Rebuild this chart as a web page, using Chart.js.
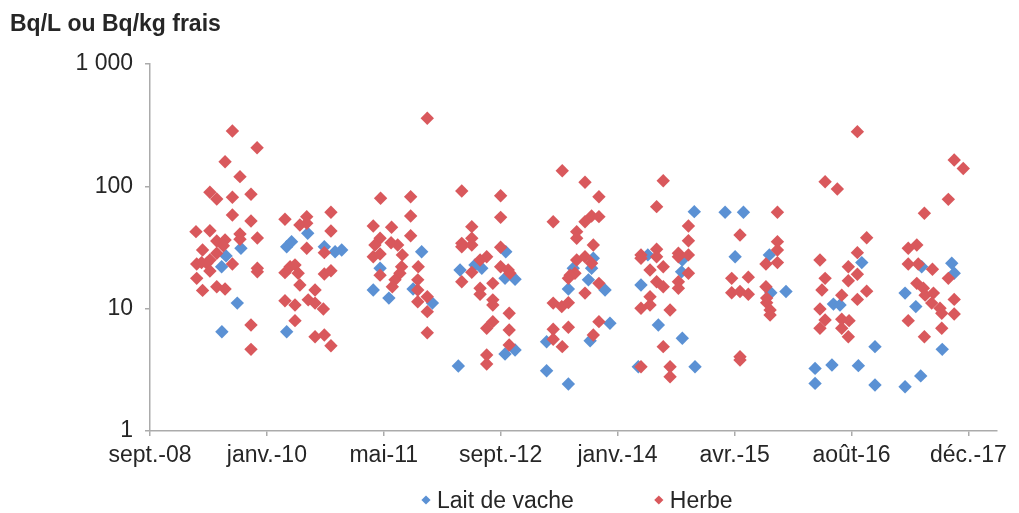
<!DOCTYPE html>
<html><head><meta charset="utf-8">
<script src="https://cdn.jsdelivr.net/npm/chart.js@4.4.1/dist/chart.umd.min.js"></script>
<style>html,body{margin:0;padding:0;background:#fff}canvas{display:block}</style>
</head><body>
<canvas id="c" width="1019" height="513"></canvas>
<script>
// ---- data ----
const yTitle = 'Bq/L ou Bq/kg frais';
const seriesNames = ['Lait de vache', 'Herbe'];
// x = days, axis starts at the "sept.-08" tick
const xTickDays = [-4, 474, 952, 1430, 1908, 2387, 2865, 3343];
const xTickLabels = ['sept.-08', 'janv.-10', 'mai-11', 'sept.-12', 'janv.-14', 'avr.-15', 'août-16', 'déc.-17'];
const yTickValues = [1, 10, 100, 1000];
const yTickLabels = ['1', '10', '100', '1 000'];

const laitDays = [368, 307, 289, 353, 290, 555, 555, 641, 575, 709, 753, 780,
  937, 909, 973, 1072, 1107, 1151,
  1451, 1325, 1353, 1264, 1448, 1489, 1448, 1489, 1257, 1618, 1618,
  1809, 1802, 1727, 1789, 1707, 1857, 1877, 1796, 1707,
  2222, 2032, 2173, 2170, 2004, 2075, 2173, 1993, 2225,
  2348, 2423, 2389, 2529, 2535, 2597,
  2716, 2716, 2907, 2791, 2818, 2961, 2785, 2893, 2961,
  3152, 3275, 3285, 3084, 3128, 3236, 3148, 3084];
const laitValues = [31.2, 27.0, 22.0, 11.1, 6.48, 32.1, 6.48, 41.3, 35.3, 32.1, 29.2, 30.2,
  21.4, 14.2, 12.2, 14.5, 29.2, 11.1,
  29.2, 22.8, 21.4, 20.7, 17.7, 17.4, 4.26, 4.59, 3.40, 5.37, 3.11,
  25.8, 21.4, 21.4, 17.2, 14.5, 14.2, 7.59, 5.47, 2.42,
  62.1, 27.5, 25.0, 20.0, 15.6, 7.36, 5.73, 3.35, 3.35,
  61.4, 61.4, 26.6, 27.5, 13.5, 13.8,
  3.25, 2.45, 23.8, 10.9, 10.7, 4.89, 3.46, 3.42, 2.38,
  22.0, 23.5, 19.5, 13.4, 10.4, 4.65, 2.82, 2.30];

const herbeDays = [333, 434, 303, 364, 241, 269, 333, 409, 333, 409, 548, 184, 241, 364, 435, 269, 303, 364, 296, 211,
  269, 241, 187, 207, 228, 333, 241, 187, 435, 435, 269, 303, 211, 548, 548, 409, 409,
  637, 609, 637, 736, 736, 637, 709, 569, 589, 602, 609, 709, 736, 671, 589, 643, 671, 705, 589, 671, 709, 736,
  939, 1062, 1062, 909, 984, 1062, 937, 916, 909, 982, 1009, 937, 1028, 1025, 1018, 998, 987, 937, 1093, 1091, 1091, 1091,
  1130, 1130, 1130, 1130,
  1271, 1430, 1430, 1312, 1271, 1271, 1312, 1312, 1430, 1373, 1346, 1312, 1430, 1461, 1468, 1271, 1398, 1346, 1346, 1398,
  1398, 1465, 1398, 1373, 1465, 1465, 1373, 1373,
  1645, 1645, 1645, 1645, 1682, 1775, 1832, 1775, 1802, 1832, 1741, 1741, 1809, 1741, 1775, 1802, 1734, 1714, 1707, 1832,
  1775, 1680, 1707, 1832, 1707, 1809, 1682,
  2095, 2068, 2198, 2198, 2004, 2004, 2068, 2068, 2157, 2157, 2198, 2095, 2041, 2198, 2068, 2095, 2157, 2157, 2041, 2041,
  2004, 2123, 2095, 2123, 2123, 2004,
  2562, 2409, 2562, 2562, 2562, 2515, 2375, 2443, 2375, 2409, 2443, 2515, 2518, 2518, 2532, 2532, 2409, 2409,
  2757, 2807, 2736, 2757, 2744, 2736, 2757, 2736, 2889, 2927, 2889, 2852, 2889, 2852, 2927, 2825, 2889, 2825, 2855, 2825, 2852,
  3285, 3322, 3261, 3163, 3097, 3132, 3097, 3138, 3196, 3261, 3132, 3159, 3166, 3200, 3193, 3227, 3234, 3285, 3285, 3097, 3234, 3163];
const herbeValues = [283, 207, 159, 120, 89.4, 78.8, 81.4, 86.1, 58.3, 52.1, 53.8, 42.6, 43.4, 40.8, 37.8, 35.7, 36.4, 36.9, 32.7, 30.2,
  28.4, 25.0, 23.2, 23.8, 23.5, 23.2, 20.3, 17.7, 21.4, 20.0, 15.1, 14.5, 14.1, 19.7, 11.6, 7.36, 4.65,
  56.5, 48.3, 49.9, 61.4, 43.2, 31.2, 28.7, 22.0, 22.8, 19.5, 15.6, 19.2, 20.4, 14.2, 10.7, 11.8, 11.1, 9.94, 7.98, 5.90, 6.09, 4.98,
  79.8, 82.3, 57.2, 47.4, 46.3, 39.5, 37.6, 33.1, 26.6, 34.6, 33.1, 28.0, 27.5, 22.0, 19.5, 17.2, 15.1, 18.8, 22.0, 17.2, 14.2, 11.4,
  360, 12.5, 9.45, 6.36,
  91.6, 83.8, 55.8, 46.8, 34.2, 32.1, 37.6, 33.1, 31.8, 26.6, 25.0, 19.8, 22.0, 20.7, 19.5, 16.6, 16.1, 14.7, 13.1, 11.8,
  10.7, 9.17, 7.83, 6.91, 6.69, 5.05, 4.18, 3.53,
  51.4, 11.1, 6.78, 5.62, 134, 108, 82.3, 51.4, 57.2, 56.5, 42.6, 37.6, 33.1, 25.0, 26.6, 23.5, 19.5, 18.8, 17.7, 16.1,
  13.4, 10.4, 11.2, 7.83, 7.04, 6.09, 4.89,
  111, 68.2, 47.4, 35.9, 27.5, 25.8, 30.6, 26.6, 28.4, 26.6, 27.5, 22.0, 20.7, 19.5, 16.6, 15.1, 16.6, 14.7, 12.5, 10.7,
  10.07, 9.75, 4.89, 3.35, 2.78, 3.35,
  61.4, 40.0, 35.3, 30.2, 23.8, 23.2, 17.7, 18.1, 13.5, 13.8, 13.1, 15.1, 12.2, 11.2, 9.75, 8.88, 4.05, 3.80,
  109, 95.1, 25.0, 17.7, 14.2, 9.94, 8.08, 6.91, 280, 38.0, 28.7, 22.0, 19.1, 16.9, 13.9, 12.9, 11.9, 8.19, 7.98, 6.91, 5.90,
  164, 140, 78.3, 60.2, 31.2, 33.1, 23.2, 23.2, 21.0, 17.7, 16.1, 14.7, 12.9, 13.4, 11.1, 10.07, 9.17, 11.9, 9.04, 7.98, 6.91, 5.90];

// ---- style ----
const BLUE = '#5b91d4';
const RED = '#d9585c';
const TEXT = '#262626';
const AXIS = '#ababab';
const FONT = "'Liberation Sans', Arial, sans-serif";
const X_MIN = -4, X_MAX = 3460;

const toPoints = (xs, ys) => xs.map((x, i) => ({ x: x, y: ys[i] }));

const decorPlugin = {
  id: 'decor',
  afterDraw(chart) {
    const ctx = chart.ctx;
    ctx.save();
    ctx.fillStyle = TEXT;
    ctx.textBaseline = 'alphabetic';
    ctx.textAlign = 'left';
    ctx.font = 'bold 23px ' + FONT;
    ctx.fillText(yTitle, 10, 31);
    // legend
    ctx.font = '23px ' + FONT;
    const colors = [BLUE, RED];
    let cx = 426;
    const cy = 500;
    seriesNames.forEach((name, i) => {
      ctx.fillStyle = colors[i];
      ctx.beginPath();
      ctx.moveTo(cx - 4.6, cy);
      ctx.lineTo(cx, cy - 4.6);
      ctx.lineTo(cx + 4.6, cy);
      ctx.lineTo(cx, cy + 4.6);
      ctx.closePath();
      ctx.fill();
      ctx.fillStyle = TEXT;
      ctx.fillText(name, cx + 11, 508);
      cx += 11 + ctx.measureText(name).width + 85;
    });
    ctx.restore();
  }
};

new Chart(document.getElementById('c'), {
  type: 'scatter',
  data: {
    datasets: [
      { label: seriesNames[0], data: toPoints(laitDays, laitValues), backgroundColor: BLUE, borderColor: BLUE,
        borderWidth: 0, pointStyle: 'rectRot', pointRadius: 6.7, pointHoverRadius: 6.7, order: 1 },
      { label: seriesNames[1], data: toPoints(herbeDays, herbeValues), backgroundColor: RED, borderColor: RED,
        borderWidth: 0, pointStyle: 'rectRot', pointRadius: 6.7, pointHoverRadius: 6.7, order: 0 }
    ]
  },
  options: {
    responsive: false,
    animation: false,
    devicePixelRatio: 1,
    layout: { padding: { left: 0, right: 22, top: 64, bottom: 0 } },
    plugins: { legend: { display: false }, title: { display: false }, tooltip: { enabled: false } },
    scales: {
      x: {
        type: 'linear', position: 'bottom', min: X_MIN, max: X_MAX,
        afterBuildTicks: s => { s.ticks = xTickDays.map(v => ({ value: v })); },
        afterFit: s => { s.height = 82; s.paddingLeft = 0; s.paddingRight = 0; },
        ticks: { autoSkip: false, maxRotation: 0, minRotation: 0, padding: 6, color: TEXT,
          font: { family: FONT, size: 23 }, callback: (v, i) => xTickLabels[i] },
        grid: { drawOnChartArea: false, drawTicks: true, tickLength: 5, color: AXIS, lineWidth: 1.5 },
        border: { display: true, color: AXIS, width: 1.5 }
      },
      y: {
        type: 'logarithmic', position: 'left', min: 1, max: 1000,
        afterBuildTicks: s => { s.ticks = yTickValues.map(v => ({ value: v })); },
        afterFit: s => { s.width = 150; s.paddingTop = 0; s.paddingBottom = 0; },
        ticks: { autoSkip: false, padding: 12, color: TEXT, font: { family: FONT, size: 23 },
          callback: (v, i) => yTickLabels[i] },
        grid: { drawOnChartArea: false, drawTicks: true, tickLength: 5, color: AXIS, lineWidth: 1.5 },
        border: { display: true, color: AXIS, width: 1.5 }
      }
    }
  },
  plugins: [decorPlugin]
});
</script>
</body></html>
